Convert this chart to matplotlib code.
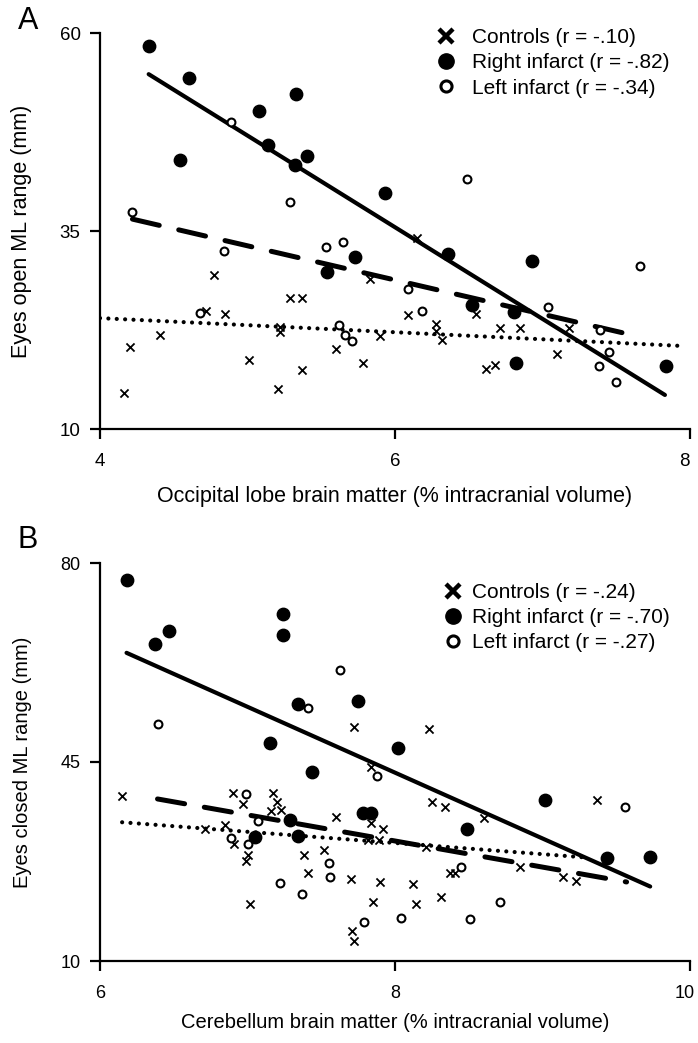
import numpy as np
import matplotlib
matplotlib.use('Agg')
import matplotlib.pyplot as plt
from matplotlib.lines import Line2D
from matplotlib.transforms import ScaledTranslation

plt.rcParams['font.family'] = 'Liberation Sans'

# ---- Panel A : eyes open vs occipital lobe ----
a_ctrl_x = [4.77, 5.29, 5.37, 4.72, 4.85, 4.41, 4.20, 5.22, 5.22, 5.60, 5.01, 5.37, 5.78, 5.21, 4.16,
            5.90, 5.83, 6.15, 6.09, 6.28, 6.28, 6.32, 6.55, 6.71, 6.85, 7.18, 7.10, 6.62, 6.68]
a_ctrl_y = [29.4, 26.6, 26.5, 24.9, 24.5, 21.9, 20.4, 22.9, 22.3, 20.1, 18.7, 17.4, 18.3, 15.0, 14.6,
            21.7, 29.0, 34.1, 24.4, 23.3, 22.4, 21.2, 24.5, 22.7, 22.7, 22.8, 19.5, 17.6, 18.1]
a_right_x = [4.33, 4.60, 5.33, 5.08, 5.14, 5.40, 5.32, 4.54, 5.93, 5.54, 5.73, 6.36, 6.93, 6.52,
             6.81, 6.82, 7.84]
a_right_y = [58.4, 54.3, 52.3, 50.2, 45.9, 44.5, 43.3, 44.0, 39.8, 29.8, 31.7, 32.1, 31.2, 25.7,
             24.8, 18.3, 17.9]
a_left_x = [4.89, 5.29, 4.22, 4.84, 5.53, 5.65, 4.68, 5.62, 5.66, 5.71, 7.66, 6.09, 6.18, 7.04,
            7.39, 7.45, 7.38, 7.50, 6.49]
a_left_y = [48.8, 38.7, 37.4, 32.5, 33.0, 33.6, 24.6, 23.1, 21.9, 21.1, 30.6, 27.7, 24.9, 25.4,
            22.5, 19.7, 18.0, 15.9, 41.6]
# fitted lines (end points)
a_fit_right = ([4.33, 7.83], [54.8, 14.3])
a_fit_left = ([4.22, 7.67], [36.5, 21.6])
a_fit_ctrl = ([4.0, 7.93], [24.0, 20.5])
a_labels = ['Controls (r = -.10)', 'Right infarct (r = -.82)', 'Left infarct (r = -.34)']

# ---- Panel B : eyes closed vs cerebellum ----
b_ctrl_x = [7.72, 8.23, 6.15, 6.90, 6.97, 7.17, 7.20, 7.23, 7.16, 6.85, 6.71, 6.91, 7.00, 6.99,
            7.38, 7.41, 7.52, 7.60, 7.84, 7.92, 7.89, 7.82, 7.70, 7.90, 7.85, 7.02, 7.71, 7.72,
            7.84, 8.25, 8.34, 8.60, 9.37, 8.21, 8.85, 9.14, 9.23, 8.37, 8.41, 8.12, 8.14, 8.31]
b_ctrl_y = [51.1, 50.8, 39.1, 39.5, 37.6, 39.5, 38.0, 36.6, 36.3, 33.9, 33.2, 30.6, 28.6, 27.6,
            28.6, 25.5, 29.5, 35.3, 34.2, 33.3, 31.3, 31.3, 24.5, 23.9, 20.3, 20.0, 15.2, 13.5,
            44.2, 37.9, 37.1, 35.1, 38.4, 30.1, 26.6, 24.7, 24.1, 25.4, 25.4, 23.5, 20.1, 21.2]
b_right_x = [6.18, 7.24, 7.24, 6.47, 6.37, 7.75, 7.34, 7.15, 8.02, 7.44, 7.78, 7.84, 7.29, 7.05,
             7.34, 9.02, 8.49, 9.44, 9.73]
b_right_y = [77.0, 71.0, 67.4, 68.0, 65.8, 55.8, 55.2, 48.3, 47.4, 43.3, 36.1, 36.1, 34.8, 31.8,
             31.9, 38.4, 33.2, 28.2, 28.3]
b_left_x = [7.63, 7.41, 6.39, 7.88, 6.99, 7.07, 6.89, 7.00, 7.55, 7.56, 7.22, 7.37, 7.79, 8.04,
            9.56, 8.45, 8.71, 8.51]
b_left_y = [61.2, 54.5, 51.6, 42.5, 39.4, 34.6, 31.7, 30.6, 27.2, 24.8, 23.7, 21.8, 16.9, 17.5,
            37.1, 26.6, 20.3, 17.4]
b_fit_right = ([6.18, 9.73], [64.2, 23.1])
b_fit_left = ([6.39, 9.57], [38.5, 23.9])
b_fit_ctrl = ([6.15, 9.30], [34.4, 28.2])
b_labels = ['Controls (r = -.24)', 'Right infarct (r = -.70)', 'Left infarct (r = -.27)']

W, H = 698, 1043
fig = plt.figure(figsize=(W / 100, H / 100), dpi=100)


def panel(rect, cx, cy, rx, ry, lx, ly, fr, fl, fc, xlim, ylim, xt, yt,
          xlabel, ylabel, labels, leg_left, leg_top, letter, letter_y, xlab_y, labsize, ticksize):
    ax = fig.add_axes(rect)
    # fitted lines
    ax.plot(*fr, color='black', lw=3.0, solid_capstyle='round', zorder=2)
    ax.plot(*fl, color='black', lw=3.6, linestyle=(0, (5.5, 4.0)), dash_capstyle='round', zorder=2)
    ax.plot(*fc, color='black', lw=3.0, linestyle=(0, (0.01, 2.0)), dash_capstyle='round', zorder=2)
    # points
    ax.scatter(cx, cy, marker='x', s=34, color='black', linewidths=1.3, zorder=3)
    ax.scatter(rx, ry, marker='o', s=80, color='black', zorder=3)
    ax.scatter(lx, ly, marker='o', s=32, facecolor='white', edgecolor='black', linewidths=1.5, zorder=3)

    ax.set_xlim(*xlim)
    ax.set_ylim(*ylim)
    ax.set_xticks(xt)
    ax.set_yticks(yt)
    for s in ['top', 'right']:
        ax.spines[s].set_visible(False)
    for s in ['left', 'bottom']:
        ax.spines[s].set_linewidth(1.6)
    ax.tick_params(axis='both', direction='out', length=7, width=1.6, labelsize=ticksize)
    ax.tick_params(axis='x', pad=10)
    ax.tick_params(axis='y', pad=7)
    ax.set_xlabel(xlabel, fontsize=labsize)
    ax.set_ylabel(ylabel, fontsize=labsize)
    ax.yaxis.set_label_coords(-0.115, 0.5)
    ax.xaxis.set_label_coords(0.5, xlab_y)

    # keep the last x tick label inside the figure
    last = ax.get_xticklabels()[-1]
    last.set_transform(last.get_transform() + ScaledTranslation(-4 / 72, 0, fig.dpi_scale_trans))

    handles = [
        Line2D([], [], marker='x', color='black', ls='none', ms=10, mew=3.2),
        Line2D([], [], marker='o', color='black', ls='none', ms=11),
        Line2D([], [], marker='o', markerfacecolor='white', markeredgecolor='black',
               ls='none', ms=8, mew=2.2),
    ]
    ax.legend(handles, labels, loc='upper left', frameon=False, fontsize=15,
              bbox_to_anchor=(leg_left / W, 1 - leg_top / H), bbox_transform=fig.transFigure,
              borderpad=0, borderaxespad=0, handlelength=1.0,
              handletextpad=(472 - leg_left - 21) / 21, labelspacing=0.3)
    fig.text(18 / W, 1 - letter_y / H, letter, fontsize=22, ha='left', va='center')
    return ax


panel([100 / W, 1 - 429 / H, 590 / W, 396 / H], a_ctrl_x, a_ctrl_y, a_right_x, a_right_y,
      a_left_x, a_left_y, a_fit_right, a_fit_left, a_fit_ctrl, (4, 8), (10, 60), [4, 6, 8],
      [10, 35, 60], 'Occipital lobe brain matter (% intracranial volume)', 'Eyes open ML range (mm)',
      a_labels, 436, 28, 'A', 21, -0.145, 15.5, 13.5)

panel([100 / W, 1 - 961 / H, 590 / W, 398 / H], b_ctrl_x, b_ctrl_y, b_right_x, b_right_y,
      b_left_x, b_left_y, b_fit_right, b_fit_left, b_fit_ctrl, (6, 10), (10, 80), [6, 8, 10],
      [10, 45, 80], 'Cerebellum brain matter (% intracranial volume)', 'Eyes closed ML range (mm)',
      b_labels, 443, 583, 'B', 540, -0.13, 14.5, 13)

fig.savefig('out.png', dpi=100)
